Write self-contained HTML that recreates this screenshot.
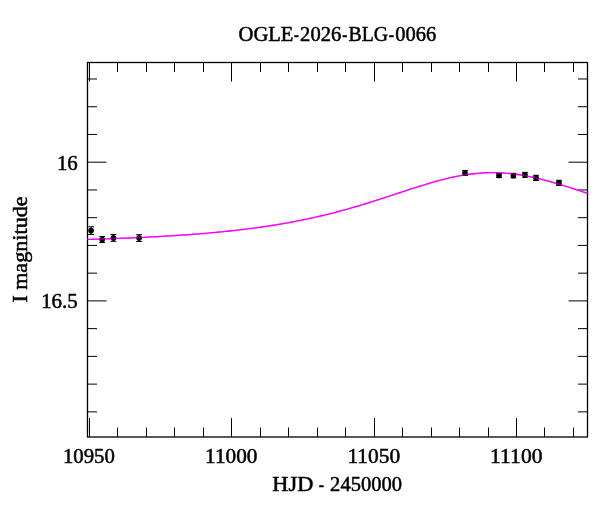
<!DOCTYPE html>
<html><head><meta charset="utf-8"><style>
html,body{margin:0;padding:0;background:#fff;}
body{width:600px;height:512px;overflow:hidden;}
svg{display:block;will-change:transform;}
text{font-family:"Liberation Serif",serif;fill:#000;}
</style></head><body>
<svg width="600" height="512" viewBox="0 0 600 512">
<rect width="600" height="512" fill="#fff"/>
<g stroke="#000" stroke-width="1" fill="none">
<line x1="89.50" y1="437.0" x2="89.50" y2="418.0"/>
<line x1="89.50" y1="62.5" x2="89.50" y2="81.5"/>
<line x1="117.50" y1="437.0" x2="117.50" y2="427.5"/>
<line x1="117.50" y1="62.5" x2="117.50" y2="72.0"/>
<line x1="146.50" y1="437.0" x2="146.50" y2="427.5"/>
<line x1="146.50" y1="62.5" x2="146.50" y2="72.0"/>
<line x1="174.50" y1="437.0" x2="174.50" y2="427.5"/>
<line x1="174.50" y1="62.5" x2="174.50" y2="72.0"/>
<line x1="203.50" y1="437.0" x2="203.50" y2="427.5"/>
<line x1="203.50" y1="62.5" x2="203.50" y2="72.0"/>
<line x1="231.50" y1="437.0" x2="231.50" y2="418.0"/>
<line x1="231.50" y1="62.5" x2="231.50" y2="81.5"/>
<line x1="260.50" y1="437.0" x2="260.50" y2="427.5"/>
<line x1="260.50" y1="62.5" x2="260.50" y2="72.0"/>
<line x1="288.50" y1="437.0" x2="288.50" y2="427.5"/>
<line x1="288.50" y1="62.5" x2="288.50" y2="72.0"/>
<line x1="317.50" y1="437.0" x2="317.50" y2="427.5"/>
<line x1="317.50" y1="62.5" x2="317.50" y2="72.0"/>
<line x1="345.50" y1="437.0" x2="345.50" y2="427.5"/>
<line x1="345.50" y1="62.5" x2="345.50" y2="72.0"/>
<line x1="374.50" y1="437.0" x2="374.50" y2="418.0"/>
<line x1="374.50" y1="62.5" x2="374.50" y2="81.5"/>
<line x1="402.50" y1="437.0" x2="402.50" y2="427.5"/>
<line x1="402.50" y1="62.5" x2="402.50" y2="72.0"/>
<line x1="431.50" y1="437.0" x2="431.50" y2="427.5"/>
<line x1="431.50" y1="62.5" x2="431.50" y2="72.0"/>
<line x1="459.50" y1="437.0" x2="459.50" y2="427.5"/>
<line x1="459.50" y1="62.5" x2="459.50" y2="72.0"/>
<line x1="488.50" y1="437.0" x2="488.50" y2="427.5"/>
<line x1="488.50" y1="62.5" x2="488.50" y2="72.0"/>
<line x1="516.50" y1="437.0" x2="516.50" y2="418.0"/>
<line x1="516.50" y1="62.5" x2="516.50" y2="81.5"/>
<line x1="544.50" y1="437.0" x2="544.50" y2="427.5"/>
<line x1="544.50" y1="62.5" x2="544.50" y2="72.0"/>
<line x1="573.50" y1="437.0" x2="573.50" y2="427.5"/>
<line x1="573.50" y1="62.5" x2="573.50" y2="72.0"/>
<line x1="87.5" y1="78.98" x2="97.0" y2="78.98"/>
<line x1="587.5" y1="78.98" x2="578.0" y2="78.98"/>
<line x1="87.5" y1="106.72" x2="97.0" y2="106.72"/>
<line x1="587.5" y1="106.72" x2="578.0" y2="106.72"/>
<line x1="87.5" y1="134.46" x2="97.0" y2="134.46"/>
<line x1="587.5" y1="134.46" x2="578.0" y2="134.46"/>
<line x1="87.5" y1="162.20" x2="106.5" y2="162.20"/>
<line x1="587.5" y1="162.20" x2="568.5" y2="162.20"/>
<line x1="87.5" y1="189.94" x2="97.0" y2="189.94"/>
<line x1="587.5" y1="189.94" x2="578.0" y2="189.94"/>
<line x1="87.5" y1="217.68" x2="97.0" y2="217.68"/>
<line x1="587.5" y1="217.68" x2="578.0" y2="217.68"/>
<line x1="87.5" y1="245.42" x2="97.0" y2="245.42"/>
<line x1="587.5" y1="245.42" x2="578.0" y2="245.42"/>
<line x1="87.5" y1="273.16" x2="97.0" y2="273.16"/>
<line x1="587.5" y1="273.16" x2="578.0" y2="273.16"/>
<line x1="87.5" y1="300.90" x2="106.5" y2="300.90"/>
<line x1="587.5" y1="300.90" x2="568.5" y2="300.90"/>
<line x1="87.5" y1="328.64" x2="97.0" y2="328.64"/>
<line x1="587.5" y1="328.64" x2="578.0" y2="328.64"/>
<line x1="87.5" y1="356.38" x2="97.0" y2="356.38"/>
<line x1="587.5" y1="356.38" x2="578.0" y2="356.38"/>
<line x1="87.5" y1="384.12" x2="97.0" y2="384.12"/>
<line x1="587.5" y1="384.12" x2="578.0" y2="384.12"/>
<line x1="87.5" y1="411.86" x2="97.0" y2="411.86"/>
<line x1="587.5" y1="411.86" x2="578.0" y2="411.86"/>
</g>
<rect x="87.5" y="62.5" width="500.0" height="374.5" stroke="#000" stroke-width="1.3" fill="none"/>
<path d="M87.50,239.44 L89.50,239.38 L91.50,239.32 L93.50,239.26 L95.50,239.20 L97.50,239.14 L99.50,239.07 L101.50,239.01 L103.50,238.94 L105.50,238.87 L107.50,238.80 L109.50,238.73 L111.50,238.66 L113.50,238.59 L115.50,238.52 L117.50,238.44 L119.50,238.36 L121.50,238.28 L123.50,238.21 L125.50,238.12 L127.50,238.04 L129.50,237.96 L131.50,237.87 L133.50,237.79 L135.50,237.70 L137.50,237.61 L139.50,237.51 L141.50,237.42 L143.50,237.33 L145.50,237.23 L147.50,237.13 L149.50,237.03 L151.50,236.93 L153.50,236.82 L155.50,236.71 L157.50,236.61 L159.50,236.50 L161.50,236.38 L163.50,236.27 L165.50,236.15 L167.50,236.03 L169.50,235.91 L171.50,235.79 L173.50,235.66 L175.50,235.54 L177.50,235.40 L179.50,235.27 L181.50,235.14 L183.50,235.00 L185.50,234.86 L187.50,234.72 L189.50,234.57 L191.50,234.42 L193.50,234.27 L195.50,234.12 L197.50,233.96 L199.50,233.80 L201.50,233.63 L203.50,233.47 L205.50,233.30 L207.50,233.13 L209.50,232.95 L211.50,232.77 L213.50,232.59 L215.50,232.40 L217.50,232.21 L219.50,232.02 L221.50,231.82 L223.50,231.62 L225.50,231.42 L227.50,231.21 L229.50,231.00 L231.50,230.78 L233.50,230.56 L235.50,230.34 L237.50,230.11 L239.50,229.88 L241.50,229.64 L243.50,229.40 L245.50,229.16 L247.50,228.91 L249.50,228.65 L251.50,228.39 L253.50,228.13 L255.50,227.86 L257.50,227.58 L259.50,227.31 L261.50,227.02 L263.50,226.73 L265.50,226.44 L267.50,226.14 L269.50,225.83 L271.50,225.52 L273.50,225.21 L275.50,224.88 L277.50,224.56 L279.50,224.22 L281.50,223.88 L283.50,223.54 L285.50,223.19 L287.50,222.83 L289.50,222.47 L291.50,222.10 L293.50,221.72 L295.50,221.34 L297.50,220.95 L299.50,220.55 L301.50,220.15 L303.50,219.74 L305.50,219.33 L307.50,218.91 L309.50,218.48 L311.50,218.04 L313.50,217.60 L315.50,217.15 L317.50,216.70 L319.50,216.23 L321.50,215.77 L323.50,215.29 L325.50,214.81 L327.50,214.32 L329.50,213.82 L331.50,213.31 L333.50,212.80 L335.50,212.28 L337.50,211.76 L339.50,211.23 L341.50,210.69 L343.50,210.14 L345.50,209.59 L347.50,209.03 L349.50,208.47 L351.50,207.90 L353.50,207.32 L355.50,206.74 L357.50,206.15 L359.50,205.55 L361.50,204.95 L363.50,204.34 L365.50,203.73 L367.50,203.11 L369.50,202.49 L371.50,201.86 L373.50,201.23 L375.50,200.60 L377.50,199.96 L379.50,199.31 L381.50,198.67 L383.50,198.02 L385.50,197.36 L387.50,196.71 L389.50,196.05 L391.50,195.39 L393.50,194.73 L395.50,194.07 L397.50,193.41 L399.50,192.75 L401.50,192.09 L403.50,191.43 L405.50,190.77 L407.50,190.12 L409.50,189.47 L411.50,188.82 L413.50,188.17 L415.50,187.53 L417.50,186.89 L419.50,186.26 L421.50,185.64 L423.50,185.02 L425.50,184.41 L427.50,183.81 L429.50,183.21 L431.50,182.63 L433.50,182.06 L435.50,181.49 L437.50,180.94 L439.50,180.40 L441.50,179.88 L443.50,179.36 L445.50,178.86 L447.50,178.38 L449.50,177.91 L451.50,177.46 L453.50,177.02 L455.50,176.61 L457.50,176.21 L459.50,175.83 L461.50,175.46 L463.50,175.12 L465.50,174.80 L467.50,174.50 L469.50,174.22 L471.50,173.96 L473.50,173.72 L475.50,173.51 L477.50,173.32 L479.50,173.15 L481.50,173.00 L483.50,172.88 L485.50,172.78 L487.50,172.71 L489.50,172.66 L491.50,172.64 L493.50,172.64 L495.50,172.66 L497.50,172.71 L499.50,172.78 L501.50,172.87 L503.50,172.99 L505.50,173.13 L507.50,173.30 L509.50,173.49 L511.50,173.70 L513.50,173.93 L515.50,174.19 L517.50,174.47 L519.50,174.77 L521.50,175.09 L523.50,175.43 L525.50,175.79 L527.50,176.17 L529.50,176.57 L531.50,176.98 L533.50,177.42 L535.50,177.87 L537.50,178.33 L539.50,178.82 L541.50,179.31 L543.50,179.82 L545.50,180.35 L547.50,180.89 L549.50,181.44 L551.50,182.00 L553.50,182.57 L555.50,183.16 L557.50,183.75 L559.50,184.35 L561.50,184.96 L563.50,185.58 L565.50,186.20 L567.50,186.83 L569.50,187.47 L571.50,188.11 L573.50,188.75 L575.50,189.40 L577.50,190.05 L579.50,190.71 L581.50,191.37 L583.50,192.03 L585.50,192.69 L587.50,193.35" stroke="#ff00ff" stroke-width="1.35" fill="none"/>
<g stroke="#000" stroke-width="1.05" fill="#000">
<line x1="91.1" y1="226.80" x2="91.1" y2="234.50"/>
<line x1="88.20" y1="226.80" x2="94.00" y2="226.80"/>
<line x1="88.20" y1="234.50" x2="94.00" y2="234.50"/>
<circle cx="91.1" cy="230.65" r="2.3"/>
<line x1="102.2" y1="236.50" x2="102.2" y2="242.50"/>
<line x1="99.30" y1="236.50" x2="105.10" y2="236.50"/>
<line x1="99.30" y1="242.50" x2="105.10" y2="242.50"/>
<circle cx="102.2" cy="239.5" r="2.3"/>
<line x1="113.45" y1="234.50" x2="113.45" y2="241.30"/>
<line x1="110.55" y1="234.50" x2="116.35" y2="234.50"/>
<line x1="110.55" y1="241.30" x2="116.35" y2="241.30"/>
<circle cx="113.45" cy="237.9" r="2.3"/>
<line x1="139.1" y1="234.70" x2="139.1" y2="241.50"/>
<line x1="136.20" y1="234.70" x2="142.00" y2="234.70"/>
<line x1="136.20" y1="241.50" x2="142.00" y2="241.50"/>
<circle cx="139.1" cy="238.1" r="2.3"/>
<line x1="465.0" y1="170.50" x2="465.0" y2="175.50"/>
<line x1="462.10" y1="170.50" x2="467.90" y2="170.50"/>
<line x1="462.10" y1="175.50" x2="467.90" y2="175.50"/>
<circle cx="465.0" cy="173.0" r="2.3"/>
<line x1="499.0" y1="173.50" x2="499.0" y2="177.50"/>
<line x1="496.10" y1="173.50" x2="501.90" y2="173.50"/>
<line x1="496.10" y1="177.50" x2="501.90" y2="177.50"/>
<circle cx="499.0" cy="175.5" r="2.3"/>
<line x1="513.4" y1="173.40" x2="513.4" y2="177.80"/>
<line x1="510.50" y1="173.40" x2="516.30" y2="173.40"/>
<line x1="510.50" y1="177.80" x2="516.30" y2="177.80"/>
<circle cx="513.4" cy="175.6" r="2.3"/>
<line x1="524.95" y1="172.40" x2="524.95" y2="177.30"/>
<line x1="522.05" y1="172.40" x2="527.85" y2="172.40"/>
<line x1="522.05" y1="177.30" x2="527.85" y2="177.30"/>
<circle cx="524.95" cy="174.85" r="2.3"/>
<line x1="536.0" y1="175.30" x2="536.0" y2="180.50"/>
<line x1="533.10" y1="175.30" x2="538.90" y2="175.30"/>
<line x1="533.10" y1="180.50" x2="538.90" y2="180.50"/>
<circle cx="536.0" cy="177.9" r="2.3"/>
<line x1="558.95" y1="180.30" x2="558.95" y2="185.50"/>
<line x1="556.05" y1="180.30" x2="561.85" y2="180.30"/>
<line x1="556.05" y1="185.50" x2="561.85" y2="185.50"/>
<circle cx="558.95" cy="182.9" r="2.3"/>
</g>
<path d="M87.50,239.44 L89.50,239.38 L91.50,239.32 L93.50,239.26 L95.50,239.20 L97.50,239.14 L99.50,239.07 L101.50,239.01 L103.50,238.94 L105.50,238.87 L107.50,238.80 L109.50,238.73 L111.50,238.66 L113.50,238.59 L115.50,238.52 L117.50,238.44 L119.50,238.36 L121.50,238.28 L123.50,238.21 L125.50,238.12 L127.50,238.04 L129.50,237.96 L131.50,237.87 L133.50,237.79 L135.50,237.70 L137.50,237.61 L139.50,237.51 L141.50,237.42 L143.50,237.33 L145.50,237.23 L147.50,237.13 L149.50,237.03 L151.50,236.93 L153.50,236.82 L155.50,236.71 L157.50,236.61 L159.50,236.50 L161.50,236.38 L163.50,236.27 L165.50,236.15 L167.50,236.03 L169.50,235.91 L171.50,235.79 L173.50,235.66 L175.50,235.54 L177.50,235.40 L179.50,235.27 L181.50,235.14 L183.50,235.00 L185.50,234.86 L187.50,234.72 L189.50,234.57 L191.50,234.42 L193.50,234.27 L195.50,234.12 L197.50,233.96 L199.50,233.80 L201.50,233.63 L203.50,233.47 L205.50,233.30 L207.50,233.13 L209.50,232.95 L211.50,232.77 L213.50,232.59 L215.50,232.40 L217.50,232.21 L219.50,232.02 L221.50,231.82 L223.50,231.62 L225.50,231.42 L227.50,231.21 L229.50,231.00 L231.50,230.78 L233.50,230.56 L235.50,230.34 L237.50,230.11 L239.50,229.88 L241.50,229.64 L243.50,229.40 L245.50,229.16 L247.50,228.91 L249.50,228.65 L251.50,228.39 L253.50,228.13 L255.50,227.86 L257.50,227.58 L259.50,227.31 L261.50,227.02 L263.50,226.73 L265.50,226.44 L267.50,226.14 L269.50,225.83 L271.50,225.52 L273.50,225.21 L275.50,224.88 L277.50,224.56 L279.50,224.22 L281.50,223.88 L283.50,223.54 L285.50,223.19 L287.50,222.83 L289.50,222.47 L291.50,222.10 L293.50,221.72 L295.50,221.34 L297.50,220.95 L299.50,220.55 L301.50,220.15 L303.50,219.74 L305.50,219.33 L307.50,218.91 L309.50,218.48 L311.50,218.04 L313.50,217.60 L315.50,217.15 L317.50,216.70 L319.50,216.23 L321.50,215.77 L323.50,215.29 L325.50,214.81 L327.50,214.32 L329.50,213.82 L331.50,213.31 L333.50,212.80 L335.50,212.28 L337.50,211.76 L339.50,211.23 L341.50,210.69 L343.50,210.14 L345.50,209.59 L347.50,209.03 L349.50,208.47 L351.50,207.90 L353.50,207.32 L355.50,206.74 L357.50,206.15 L359.50,205.55 L361.50,204.95 L363.50,204.34 L365.50,203.73 L367.50,203.11 L369.50,202.49 L371.50,201.86 L373.50,201.23 L375.50,200.60 L377.50,199.96 L379.50,199.31 L381.50,198.67 L383.50,198.02 L385.50,197.36 L387.50,196.71 L389.50,196.05 L391.50,195.39 L393.50,194.73 L395.50,194.07 L397.50,193.41 L399.50,192.75 L401.50,192.09 L403.50,191.43 L405.50,190.77 L407.50,190.12 L409.50,189.47 L411.50,188.82 L413.50,188.17 L415.50,187.53 L417.50,186.89 L419.50,186.26 L421.50,185.64 L423.50,185.02 L425.50,184.41 L427.50,183.81 L429.50,183.21 L431.50,182.63 L433.50,182.06 L435.50,181.49 L437.50,180.94 L439.50,180.40 L441.50,179.88 L443.50,179.36 L445.50,178.86 L447.50,178.38 L449.50,177.91 L451.50,177.46 L453.50,177.02 L455.50,176.61 L457.50,176.21 L459.50,175.83 L461.50,175.46 L463.50,175.12 L465.50,174.80 L467.50,174.50 L469.50,174.22 L471.50,173.96 L473.50,173.72 L475.50,173.51 L477.50,173.32 L479.50,173.15 L481.50,173.00 L483.50,172.88 L485.50,172.78 L487.50,172.71 L489.50,172.66 L491.50,172.64 L493.50,172.64 L495.50,172.66 L497.50,172.71 L499.50,172.78 L501.50,172.87 L503.50,172.99 L505.50,173.13 L507.50,173.30 L509.50,173.49 L511.50,173.70 L513.50,173.93 L515.50,174.19 L517.50,174.47 L519.50,174.77 L521.50,175.09 L523.50,175.43 L525.50,175.79 L527.50,176.17 L529.50,176.57 L531.50,176.98 L533.50,177.42 L535.50,177.87 L537.50,178.33 L539.50,178.82 L541.50,179.31 L543.50,179.82 L545.50,180.35 L547.50,180.89 L549.50,181.44 L551.50,182.00 L553.50,182.57 L555.50,183.16 L557.50,183.75 L559.50,184.35 L561.50,184.96 L563.50,185.58 L565.50,186.20 L567.50,186.83 L569.50,187.47 L571.50,188.11 L573.50,188.75 L575.50,189.40 L577.50,190.05 L579.50,190.71 L581.50,191.37 L583.50,192.03 L585.50,192.69 L587.50,193.35" stroke="#ff00ff" stroke-width="1.35" fill="none" opacity="0.45"/>
<g font-size="20" stroke="#000" stroke-width="0.5">
<text x="238.53" y="40.5" textLength="54.87" lengthAdjust="spacingAndGlyphs">OGLE</text>
<text x="294.03" y="40.5" textLength="4.90" lengthAdjust="spacingAndGlyphs">-</text>
<text x="300.13" y="40.5" textLength="41.14" lengthAdjust="spacingAndGlyphs">2026</text>
<text x="342.22" y="40.5" textLength="5.03" lengthAdjust="spacingAndGlyphs">-</text>
<text x="348.46" y="40.5" textLength="39.53" lengthAdjust="spacingAndGlyphs">BLG</text>
<text x="388.70" y="40.5" textLength="5.28" lengthAdjust="spacingAndGlyphs">-</text>
<text x="395.33" y="40.5" textLength="40.93" lengthAdjust="spacingAndGlyphs">0066</text>
<text x="62.99" y="462.7" textLength="51.89" lengthAdjust="spacingAndGlyphs">10950</text>
<text x="205.14" y="462.7" textLength="52.35" lengthAdjust="spacingAndGlyphs">11000</text>
<text x="347.43" y="462.7" textLength="52.77" lengthAdjust="spacingAndGlyphs">11050</text>
<text x="490.11" y="462.7" textLength="52.39" lengthAdjust="spacingAndGlyphs">11100</text>
<text x="272.39" y="490.9" textLength="40.89" lengthAdjust="spacingAndGlyphs">HJD</text>
<text x="318.70" y="490.9" textLength="5.28" lengthAdjust="spacingAndGlyphs">-</text>
<text x="330.13" y="490.9" textLength="71.94" lengthAdjust="spacingAndGlyphs">2450000</text>
<text x="56.98" y="169.5" textLength="20.79" lengthAdjust="spacingAndGlyphs">16</text>
<text x="41.17" y="308.3" textLength="36.61" lengthAdjust="spacingAndGlyphs">16.5</text>
<g transform="translate(27.1,0) rotate(-90)">
<text x="-302.52" y="0" textLength="7.29" lengthAdjust="spacingAndGlyphs">I</text>
<text x="-289.89" y="0" textLength="93.49" lengthAdjust="spacingAndGlyphs">magnitude</text>
</g>
</g>
</svg>
</body></html>
